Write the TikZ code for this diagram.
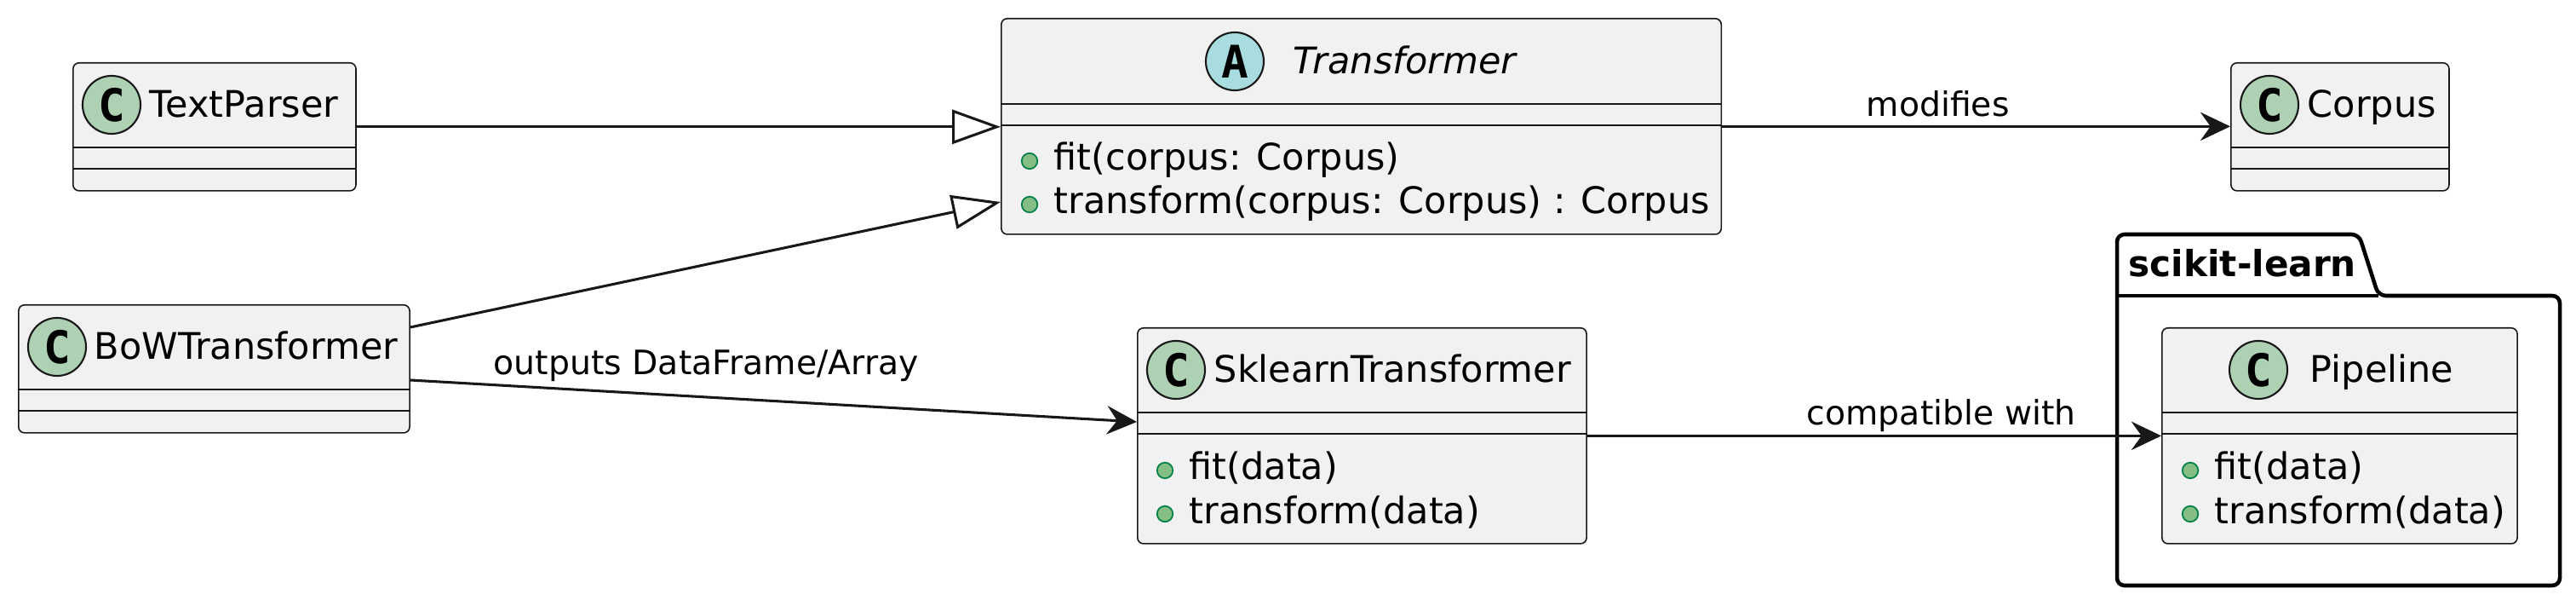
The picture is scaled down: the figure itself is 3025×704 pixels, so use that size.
\documentclass[tikz,border=0pt]{standalone}
\usepackage{fontspec}
\setmainfont{DejaVu Sans}
\newfontfamily\circfont{DejaVu Sans Mono}
\usetikzlibrary{arrows.meta,calc}
\definecolor{cfill}{HTML}{F1F1F1}
\definecolor{cline}{HTML}{181818}
\definecolor{cgreen}{HTML}{ADD1B2}
\definecolor{cblue}{HTML}{A9DCDF}
\definecolor{bfill}{HTML}{84BE84}
\definecolor{bline}{HTML}{038048}
\begin{document}
\begin{tikzpicture}[x=0.01cm,y=-0.01cm,
  cls/.style={draw=cline, fill=cfill, line width=0.45pt, rounded corners=2pt, inner sep=0pt, anchor=north west},
  sepl/.style={draw=cline, line width=0.45pt},
  circ/.style={circle, draw=cline, line width=0.6pt, minimum size=0.68cm, inner sep=0pt,
    font=\circfont\bfseries\fontsize{15}{15}\selectfont},
  cname/.style={anchor=base west, inner sep=0pt, font=\fontsize{12.23}{14}\selectfont},
  meth/.style={anchor=base west, inner sep=0pt, font=\fontsize{12.23}{14}\selectfont},
  bul/.style={circle, draw=bline, fill=bfill, line width=0.5pt, minimum size=0.185cm, inner sep=0pt},
  lbl/.style={anchor=base west, inner sep=0pt, font=\fontsize{11.2}{13}\selectfont},
  conn/.style={draw=cline, line width=0.87pt},
  inh/.style={conn, -{Triangle[length=16.2pt, width=11.4pt, fill=white]}},
  assoc/.style={conn, -{Stealth[length=10pt, width=9.5pt, inset=3.4pt]}},
  pkg/.style={draw=black, line width=1.3pt, rounded corners=2.5pt, line join=round}
]
\useasboundingbox (0,0) rectangle (3025,704);

% ---------- package scikit-learn ----------
\draw[pkg] (2486,347) -- (2486,275) -- (2770,275) -- (2793,347) -- (3006,347) -- (3006,687) -- (2486,687) -- cycle;
\draw[line width=1.3pt] (2486,347) -- (2793,347);
\node[anchor=base west, inner sep=0pt, font=\bfseries\fontsize{12}{14}\selectfont] (pkgL) at (2499,325) {scikit-learn};

% ---------- TextParser ----------
\node[cls, minimum width=3.32cm, minimum height=1.5cm] (tp) at (85,73) {};
\draw[sepl] ($(tp.north west)+(0,100)$) -- ($(tp.north east)+(0,100)$);
\draw[sepl] ($(tp.north west)+(0,125)$) -- ($(tp.north east)+(0,125)$);
\node[circ, fill=cgreen] (tpC) at (131,123) {C};
\node[cname] (tpN) at (175,138) {TextParser};

% ---------- BoWTransformer ----------
\node[cls, minimum width=4.59cm, minimum height=1.5cm] (bow) at (21,357) {};
\draw[sepl] ($(bow.north west)+(0,100)$) -- ($(bow.north east)+(0,100)$);
\draw[sepl] ($(bow.north west)+(0,125)$) -- ($(bow.north east)+(0,125)$);
\node[circ, fill=cgreen] (bowC) at (67,407) {C};
\node[cname] (bowN) at (110,422) {BoWTransformer};

% ---------- Transformer ----------
\node[cls, minimum width=8.45cm, minimum height=2.53cm] (tr) at (1175,21) {};
\draw[sepl] ($(tr.north west)+(0,101)$) -- ($(tr.north east)+(0,101)$);
\draw[sepl] ($(tr.north west)+(0,126)$) -- ($(tr.north east)+(0,126)$);
\node[circ, fill=cblue] (trC) at (1450,72) {A};
\node[cname, font=\itshape\fontsize{12.23}{14}\selectfont] (trN) at (1518,87) {Transformer};
\node[bul] (trB1) at (1209,189) {};
\node[meth] (trM1) at (1237,200) {fit(corpus: Corpus)};
\node[bul] (trB2) at (1209,240) {};
\node[meth] (trM2) at (1237,251) {transform(corpus: Corpus) : Corpus};

% ---------- Corpus ----------
\node[cls, minimum width=2.56cm, minimum height=1.5cm] (corp) at (2619,73) {};
\draw[sepl] ($(corp.north west)+(0,100)$) -- ($(corp.north east)+(0,100)$);
\draw[sepl] ($(corp.north west)+(0,125)$) -- ($(corp.north east)+(0,125)$);
\node[circ, fill=cgreen] (corpC) at (2665,123) {C};
\node[cname] (corpN) at (2709,138) {Corpus};

% ---------- SklearnTransformer ----------
\node[cls, minimum width=5.27cm, minimum height=2.53cm] (skl) at (1335,384) {};
\draw[sepl] ($(skl.north west)+(0,100)$) -- ($(skl.north east)+(0,100)$);
\draw[sepl] ($(skl.north west)+(0,125)$) -- ($(skl.north east)+(0,125)$);
\node[circ, fill=cgreen] (sklC) at (1381,434) {C};
\node[cname] (sklN) at (1425,449) {SklearnTransformer};
\node[bul] (sklB1) at (1368,552) {};
\node[meth] (sklM1) at (1396,563) {fit(data)};
\node[bul] (sklB2) at (1368,603) {};
\node[meth] (sklM2) at (1396,614) {transform(data)};

% ---------- Pipeline ----------
\node[cls, minimum width=4.17cm, minimum height=2.53cm] (pipe) at (2538,384) {};
\draw[sepl] ($(pipe.north west)+(0,100)$) -- ($(pipe.north east)+(0,100)$);
\draw[sepl] ($(pipe.north west)+(0,125)$) -- ($(pipe.north east)+(0,125)$);
\node[circ, fill=cgreen] (pipeC) at (2652,434) {C};
\node[cname] (pipeN) at (2712,449) {Pipeline};
\node[bul] (pipeB1) at (2572,552) {};
\node[meth] (pipeM1) at (2600,563) {fit(data)};
\node[bul] (pipeB2) at (2572,603) {};
\node[meth] (pipeM2) at (2600,614) {transform(data)};

% ---------- connectors ----------
\draw[inh] (tp.east) -- (tp.east -| tr.west);
\draw[inh] ($(bow.north east)+(0,27)$) -- ($(tr.north west)+(0,216)$);
\draw[assoc] (tr.east) -- (tr.east -| corp.west);
\draw[assoc] ($(bow.north east)+(0,89)$) -- ($(skl.north west)+(0,111)$);
\draw[assoc] (skl.east) -- (skl.east -| pipe.west);

% ---------- labels ----------
\node[lbl] (lmod) at (2191,137) {modifies};
\node[lbl] (lout) at (579,440) {outputs DataFrame/Array};
\node[lbl] (lcomp) at (2121,499) {compatible with};
\end{tikzpicture}
\end{document}
